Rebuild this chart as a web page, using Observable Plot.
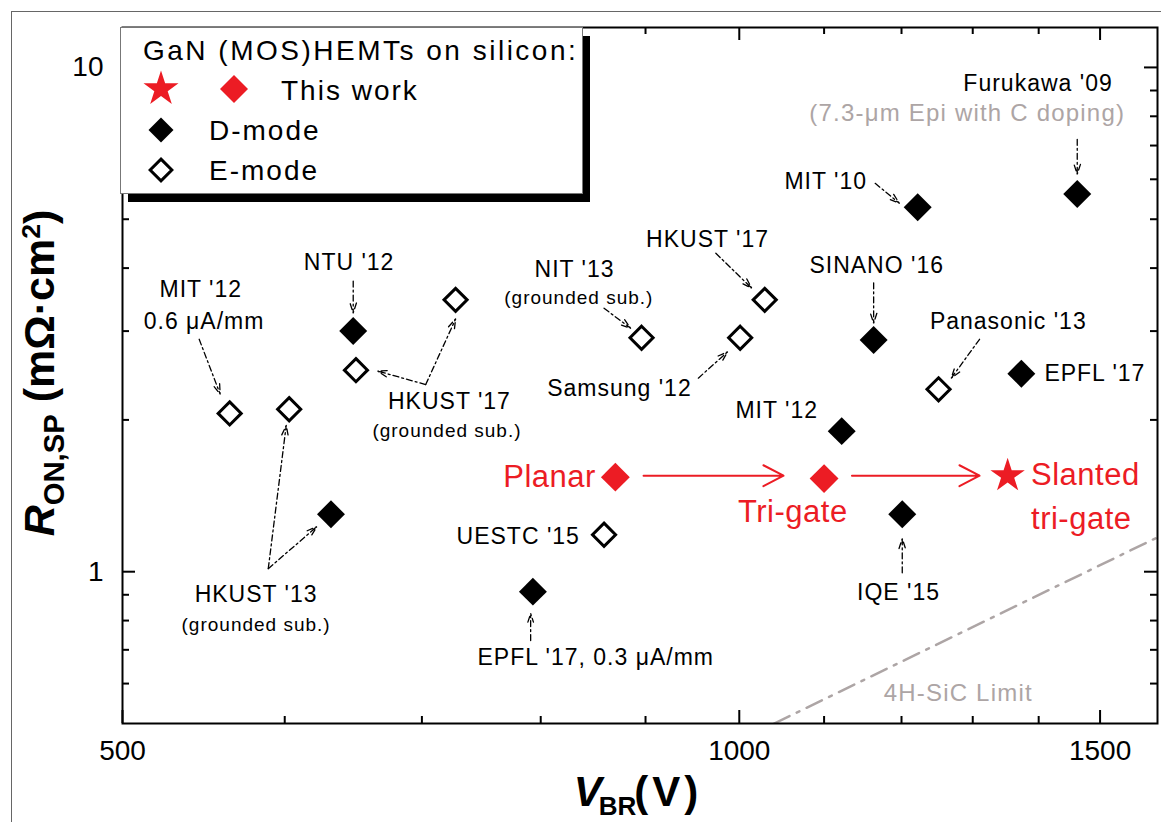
<!DOCTYPE html>
<html><head><meta charset="utf-8">
<script src="https://cdn.jsdelivr.net/npm/d3@7"></script>
<script src="https://cdn.jsdelivr.net/npm/@observablehq/plot@0.6"></script>
<style>
html,body{margin:0;padding:0;background:#fff;overflow:hidden;}
#wrap{position:relative;width:1161px;height:822px;font-family:'Liberation Sans',Arial,Helvetica,sans-serif;}
#border{position:absolute;left:11px;top:11px;width:1300px;height:1000px;border-left:1.5px solid #666;border-top:1.5px solid #666;}
.title{position:absolute;font-weight:bold;line-height:1;white-space:nowrap;color:#000;}
.sub{position:relative;font-size:0.68em;top:0.33em;}
.sup{position:relative;font-size:0.62em;top:-0.52em;}
#wrap svg g[font-size="23"], #wrap svg g[font-size="19"]{letter-spacing:1px;}
#wrap svg g[font-size="24"]{letter-spacing:1.2px;}
#wrap svg g[font-size="31"]{letter-spacing:0.5px;}
</style></head><body>
<div id="wrap"><div id="border"></div></div>
<script>
// ---------------- data ----------------
// D-mode GaN (MOS)HEMTs (filled diamonds)
const dModeNames = ["NTU '12", "HKUST '13", "EPFL '17 (0.3 μA/mm)", "MIT '10", "Furukawa '09", "SINANO '16", "MIT '12", "IQE '15", "EPFL '17"];
const dModeV = [648, 632, 793, 1222, 1462, 1163, 1122, 1201, 1373];
const dModeR = [3.00, 1.30, 0.913, 5.28, 5.61, 2.88, 1.90, 1.30, 2.47];
// E-mode (open diamonds)
const eModeNames = ["MIT '12", "HKUST '13", "HKUST '17 (gs) a", "HKUST '17 (gs) b", "NIT '13", "Samsung '12", "HKUST '17", "Panasonic '13", "UESTC '15"];
const eModeV = [564, 603, 650, 727, 896, 1001, 1029, 1251, 859];
const eModeR = [2.06, 2.10, 2.51, 3.46, 2.91, 2.91, 3.46, 2.30, 1.184];
// This work
const thisNames = ["Planar", "Tri-gate", "Slanted tri-gate"];
const thisV = [870, 1100, 1352];
const thisR = [1.54, 1.53, 1.55];
const thisSymbol = ["diamond2", "diamond2", "star"];
// 4H-SiC limit
const sicV = [1040, 1600];
const sicR = [0.5, 1.17];
// progression arrows (this work)
const flowV1 = [898, 1135];
const flowV2 = [1051, 1310];
const flowR = [1.55, 1.55];
// annotation labels
const labelText = ["MIT '12", "0.6 μA/mm", "NTU '12", "HKUST '17", "HKUST '13", "NIT '13", "HKUST '17", "Samsung '12", "MIT '10", "Furukawa '09", "SINANO '16", "Panasonic '13", "EPFL '17", "MIT '12", "IQE '15", "UESTC '15", "EPFL '17, 0.3 μA/mm",
  "(grounded sub.)", "(grounded sub.)", "(grounded sub.)",
  "(7.3-μm Epi with C doping)", "4H-SiC Limit",
  "Planar", "Tri-gate", "Slanted", "tri-gate"];
const labelV = [546, 548, 645, 722, 581, 831, 965, 874, 1102, 1399, 1167, 1353, 1409, 1043, 1196, 780, 851,
  720, 581, 835,
  1292, 1279,
  808, 1062, 1388, 1388];
const labelR = [3.63, 3.13, 4.11, 2.17, 0.90, 3.98, 4.56, 2.31, 5.95, 9.30, 4.05, 3.13, 2.47, 2.09, 0.909, 1.173, 0.676,
  1.90, 0.785, 3.49,
  8.11, 0.573,
  1.54, 1.315, 1.556, 1.273];
const labelKind = ["black","black","black","black","black","black","black","black","black","black","black","black","black","black","black","black","black",
  "small","small","small","gray","gray","red","red","red","red"];
const labelAnchor = ["middle","middle","middle","middle","middle","middle","middle","middle","middle","middle","middle","middle","start","middle","middle","middle","middle",
  "middle","middle","middle","middle","middle","middle","middle","start","start"];
// annotation pointer arrows
const ptrV1 = [545, 648, 703, 703, 589, 589, 859, 974, 955, 1165, 1462, 1163, 1310, 1201, 791];
const ptrR1 = [2.89, 3.77, 2.35, 2.35, 1.014, 1.014, 3.33, 4.28, 2.42, 5.89, 7.20, 3.74, 2.89, 0.995, 0.730];
const ptrV2 = [558, 648, 666, 727, 601, 622, 885, 1014, 987, 1197, 1462, 1163, 1269, 1201, 791];
const ptrR2 = [2.25, 3.26, 2.50, 3.17, 1.95, 1.228, 3.04, 3.65, 2.73, 5.38, 6.14, 3.11, 2.42, 1.163, 0.826];
// ticks
const xTickMajor = [500, 1000, 1500];
const xTickMinor = [600, 700, 800, 900, 1100, 1200, 1300, 1400];
const yTickMajor = [1, 10];
const yTickMinor = [0.6, 0.7, 0.8, 0.9, 2, 3, 4, 5, 6, 7, 8, 9];

// ---------------- build ----------------
const RED = "#ec1c24";
const GRAY = "#ada5a5";
const W = 1161, H = 822, mL = 122, mR = 4, mT = 27, mB = 99;
const fw = W - mL - mR, fh = H - mT - mB;
const major = 13, minor = 7;

const dMode = dModeNames.map((n, i) => ({name: n, v: dModeV[i], r: dModeR[i]}));
const eMode = eModeNames.map((n, i) => ({name: n, v: eModeV[i], r: eModeR[i]}));
const thisWork = thisNames.map((n, i) => ({name: n, v: thisV[i], r: thisR[i], s: thisSymbol[i]}));
const sic = sicV.map((v, i) => ({v, r: sicR[i]}));
const flow = flowV1.map((v, i) => ({v1: v, v2: flowV2[i], r: flowR[i]}));
const labels = labelText.map((t, i) => ({t, v: labelV[i], r: labelR[i], k: labelKind[i], a: labelAnchor[i]}));
const ptrs = ptrV1.map((v, i) => ({v1: v, r1: ptrR1[i], v2: ptrV2[i], r2: ptrR2[i]}));

const kinds = {
  black: {fontSize: 23, fill: "#000"},
  small: {fontSize: 19, fill: "#000"},
  gray: {fontSize: 24, fill: GRAY},
  red: {fontSize: 31, fill: RED}
};
const textMarks = [];
for (const k of Object.keys(kinds)) {
  for (const a of ["middle", "start"]) {
    const sub = labels.filter(d => d.k === k && d.a === a);
    if (sub.length) textMarks.push(Plot.text(sub, {x: "v", y: "r", text: "t", textAnchor: a, fontSize: kinds[k].fontSize, fill: kinds[k].fill, fontFamily: "'Liberation Sans', Arial, sans-serif"}));
  }
}

const chart = Plot.plot({
  width: W, height: H,
  marginLeft: mL, marginRight: mR, marginTop: mT, marginBottom: mB,
  style: {fontFamily: "'Liberation Sans', Arial, sans-serif", fontSize: "28px", background: "transparent", color: "#000", overflow: "visible"},
  x: {type: "log", domain: [500, 1600], ticks: xTickMajor, tickFormat: d => String(d), tickSize: 0, tickPadding: 17, label: null},
  y: {type: "log", domain: [0.5, 12], ticks: yTickMajor, tickFormat: d => String(d), tickSize: 0, tickPadding: 19, label: null},
  marks: [
    Plot.line(sic, {x: "v", y: "r", stroke: GRAY, strokeWidth: 2.5, strokeDasharray: "17,8,3,8", clip: true}),
    Plot.arrow(ptrs, {x1: "v1", y1: "r1", x2: "v2", y2: "r2", stroke: "#000", strokeWidth: 1.3, strokeDasharray: "6,3,2,3", headLength: 12, headAngle: 36}),
    Plot.arrow(flow, {x1: "v1", y1: "r", x2: "v2", y2: "r", stroke: RED, strokeWidth: 2, headLength: 17, headAngle: 55}),
    Plot.dot(dMode, {x: "v", y: "r", symbol: "diamond2", r: 12.6, fill: "#000"}),
    Plot.dot(eMode, {x: "v", y: "r", symbol: "diamond2", r: 10.4, fill: "#fff", stroke: "#000", strokeWidth: 3}),
    Plot.dot(thisWork.filter(d => d.s === "diamond2"), {x: "v", y: "r", symbol: "diamond2", r: 13, fill: RED}),
    Plot.dot(thisWork.filter(d => d.s === "star"), {x: "v", y: "r", symbol: "star", r: 10.8, fill: RED}),
    ...textMarks,
    Plot.tickX(xTickMajor, {x: d => d, insetTop: fh - major, stroke: "#000", strokeWidth: 2}),
    Plot.tickX(xTickMajor, {x: d => d, insetBottom: fh - major, stroke: "#000", strokeWidth: 2}),
    Plot.tickX(xTickMinor, {x: d => d, insetTop: fh - minor, stroke: "#000", strokeWidth: 2}),
    Plot.tickX(xTickMinor, {x: d => d, insetBottom: fh - minor, stroke: "#000", strokeWidth: 2}),
    Plot.tickY(yTickMajor, {y: d => d, insetRight: fw - major, stroke: "#000", strokeWidth: 2}),
    Plot.tickY(yTickMajor, {y: d => d, insetLeft: fw - major, stroke: "#000", strokeWidth: 2}),
    Plot.tickY(yTickMinor, {y: d => d, insetRight: fw - minor, stroke: "#000", strokeWidth: 2}),
    Plot.tickY(yTickMinor, {y: d => d, insetLeft: fw - minor, stroke: "#000", strokeWidth: 2}),
    Plot.frame({stroke: "#000", strokeWidth: 2})
  ]
});
chart.style.position = "absolute";
chart.style.left = "0px";
chart.style.top = "0px";
const wrap = document.getElementById("wrap");
wrap.appendChild(chart);

// ---------------- legend ----------------
const leg = d3.select(wrap).append("svg")
  .attr("width", W).attr("height", H)
  .style("position", "absolute").style("left", "0px").style("top", "0px")
  .style("font-family", "'Liberation Sans', Arial, sans-serif");
leg.append("rect").attr("x", 128).attr("y", 36).attr("width", 462).attr("height", 166).attr("fill", "#000");
leg.append("rect").attr("x", 120.5).attr("y", 27.5).attr("width", 462).attr("height", 166).attr("fill", "#fff").attr("stroke", "#777").attr("stroke-width", 1);
const legText = [
  {t: "GaN (MOS)HEMTs on silicon:", x: 143, y: 60, ls: 2.5},
  {t: "This work", x: 281, y: 100, ls: 2},
  {t: "D-mode", x: 209, y: 140, ls: 2},
  {t: "E-mode", x: 209, y: 180, ls: 2}
];
leg.selectAll("text.l").data(legText).join("text").attr("class", "l")
  .attr("x", d => d.x).attr("y", d => d.y).attr("font-size", 28).attr("letter-spacing", d => d.ls).attr("fill", "#000").text(d => d.t);
const legSym = [
  {sym: d3.symbolStar, size: 380, x: 161, y: 89, fill: RED, stroke: "none"},
  {sym: d3.symbolDiamond2, size: 500, x: 234, y: 89, fill: RED, stroke: "none"},
  {sym: d3.symbolDiamond2, size: 398, x: 161, y: 130, fill: "#000", stroke: "none"},
  {sym: d3.symbolDiamond2, size: 300, x: 161, y: 170, fill: "#fff", stroke: "#000"}
];
leg.selectAll("path.s").data(legSym).join("path").attr("class", "s")
  .attr("transform", d => `translate(${d.x},${d.y})`)
  .attr("d", d => d3.symbol(d.sym, d.size)())
  .attr("fill", d => d.fill).attr("stroke", d => d.stroke).attr("stroke-width", 3);

// ---------------- axis titles ----------------
const xt = document.createElement("div");
xt.className = "title";
xt.style.cssText = "left:638px;top:771px;font-size:42px;transform:translateX(-50%);";
xt.innerHTML = "<i>V</i><span class=\"sub\" style=\"font-size:0.62em;margin-left:-3px\">BR</span><span style=\"margin-left:-2px;letter-spacing:4px\">(V)</span>";
wrap.appendChild(xt);
const yt = document.createElement("div");
yt.className = "title";
yt.style.cssText = "left:39px;top:373px;font-size:43px;transform:translate(-50%,-50%) rotate(-90deg);";
yt.innerHTML = "<i>R</i><span class=\"sub\">ON,SP</span> (mΩ·cm<span class=\"sup\">2</span>)";
wrap.appendChild(yt);
</script></body></html>
